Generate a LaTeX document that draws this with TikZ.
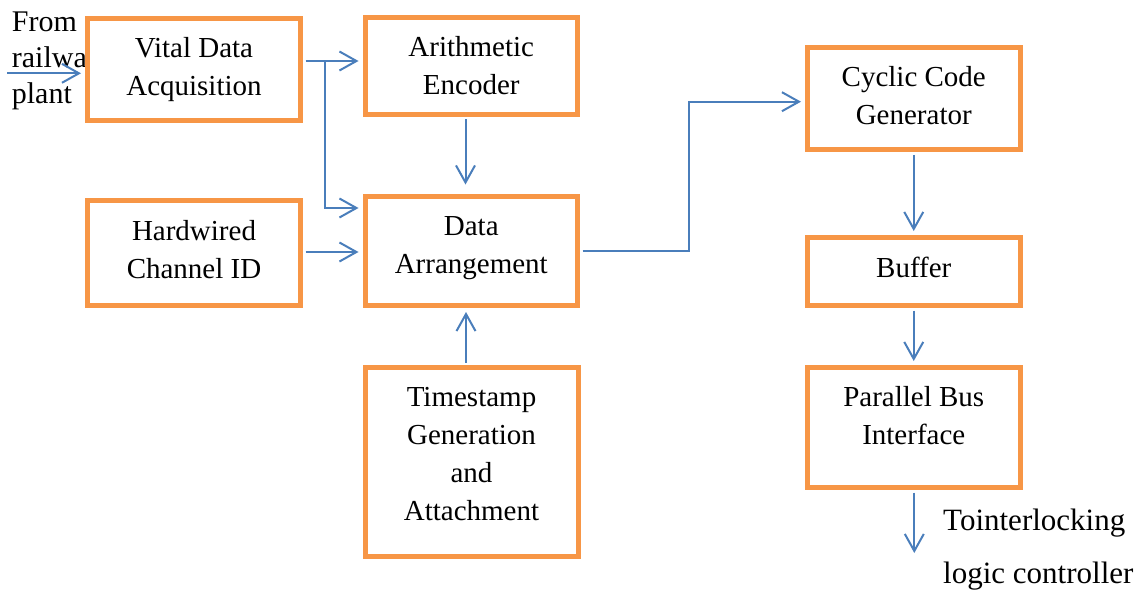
\documentclass[tikz,border=0pt]{standalone}
\usepackage{fontspec}
\setmainfont{Liberation Serif}
\usetikzlibrary{arrows.meta}
\definecolor{boxorange}{HTML}{F79646}
\definecolor{linkblue}{HTML}{4A7EBB}
\begin{document}
\begin{tikzpicture}[x=1pt,y=-1pt,
  boxnode/.style 2 args={draw=boxorange,line width=5pt,fill=white,inner sep=0pt,minimum width=#1,minimum height=#2},
  txt/.style={align=center,inner sep=0pt,font=\fontsize{29}{38}\selectfont},
  link/.style={draw=linkblue,line width=2pt,-{Straight Barb[length=17pt,width=19pt]},shorten <=2.5pt,shorten >=4pt}]
\useasboundingbox (0,0) rectangle (1143,591);
% source text (partly hidden by the first box)
\node[txt,align=left,font=\fontsize{30}{36}\selectfont,anchor=north west] (src) at (11.7,11.8) {From\\railway\\plant};
% boxes
\node[boxnode={213pt}{101.5pt}] (vda) at (194,69.75) {};
\node[boxnode={212.5pt}{97pt}] (ae) at (471.25,66) {};
\node[boxnode={213pt}{105pt}] (hw) at (194,253) {};
\node[boxnode={212.5pt}{109.5pt}] (da) at (471.25,250.75) {};
\node[boxnode={213pt}{189pt}] (ts) at (471.5,462) {};
\node[boxnode={212.5pt}{102.5pt}] (cc) at (913.75,98.75) {};
\node[boxnode={212.5pt}{68pt}] (bf) at (913.75,271.5) {};
\node[boxnode={212.5pt}{120pt}] (pb) at (913.75,427.5) {};
% box texts
\node[txt] (vdat) at ([yshift=0pt]vda.center) {Vital Data\\Acquisition};
\node[txt] (aet) at ([yshift=0pt]ae.center) {Arithmetic\\Encoder};
\node[txt] (hwt) at ([yshift=3pt]hw.center) {Hardwired\\Channel ID};
\node[txt] (dat) at ([yshift=3pt]da.center) {Data\\Arrangement};
\node[txt] (tst) at ([yshift=8pt]ts.center) {Timestamp\\Generation\\and\\Attachment};
\node[txt] (cct) at ([yshift=3pt]cc.center) {Cyclic Code\\Generator};
\node[txt] (bft) at ([yshift=4pt]bf.center) {Buffer};
\node[txt] (pbt) at ([yshift=12pt]pb.center) {Parallel Bus\\Interface};
% destination text
\node[txt,align=left,font=\fontsize{31}{53}\selectfont,anchor=north west] (dest) at (943,509) {Tointerlocking\\logic controller};
% connectors
\coordinate (in0) at (7,73.3);
\coordinate (j) at (325,61);
\coordinate (j2) at (325,208);
\coordinate (hy) at (330,252);
\coordinate (cx1) at (465.5,0);
\coordinate (cx2) at (466,0);
\coordinate (k1) at (689.3,251);
\coordinate (k2) at (689.3,101.7);
\coordinate (outp) at (914.3,553);
\draw[link,shorten <=0pt] (in0) -- (in0 -| vda.west);
\draw[link] (j -| vda.east) -- (j -| ae.west);
\draw[link,shorten <=0pt] (j) -- (j2) -- (j2 -| da.west);
\draw[link] (hy -| hw.east) -- (hy -| da.west);
\draw[link,shorten >=9pt] (cx1 |- ae.south) -- (cx1 |- da.north);
\draw[link] (cx2 |- ts.north) -- (cx2 |- da.south);
\draw[link] (k1 -| da.east) -- (k1) -- (k2) -- (k2 -| cc.west);
\draw[link] (cc.south) -- (bf.north);
\draw[link] (bf.south) -- (pb.north);
\draw[link,shorten >=0pt] (outp |- pb.south) -- (outp);
\end{tikzpicture}
\end{document}
